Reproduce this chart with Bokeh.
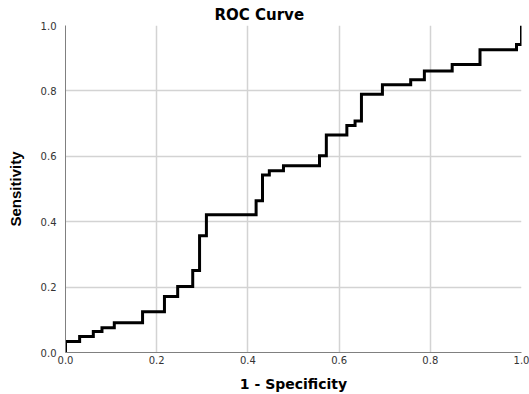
from bokeh.plotting import figure
from bokeh.models import FixedTicker, PrintfTickFormatter, Range1d
from bokeh.embed import file_html
from bokeh.resources import INLINE

# Step locations (1 - Specificity) and the Sensitivity level reached there
fpr = [0.0, 0.0, 0.031, 0.061, 0.080, 0.107, 0.169, 0.217, 0.246, 0.279, 0.294,
       0.309, 0.418, 0.432, 0.447, 0.478, 0.557, 0.572, 0.617, 0.635, 0.649,
       0.695, 0.757, 0.787, 0.848, 0.909, 0.989, 1.0]
tpr = [0.0, 0.034, 0.049, 0.064, 0.076, 0.091, 0.125, 0.171, 0.202, 0.251, 0.357,
       0.421, 0.464, 0.543, 0.556, 0.571, 0.602, 0.665, 0.694, 0.708, 0.790,
       0.819, 0.834, 0.861, 0.881, 0.926, 0.942, 1.0]
ticks = [0.0, 0.2, 0.4, 0.6, 0.8, 1.0]

title_text = "ROC Curve"
x_label = "1 - Specificity"
y_label = "Sensitivity"

p = figure(width=529, height=394, output_backend="svg", toolbar_location=None,
           x_range=Range1d(0, 1), y_range=Range1d(0, 1),
           min_border_left=65, min_border_right=8, min_border_top=25,
           min_border_bottom=41, title=title_text)

p.title.text_font = "DejaVu Sans"
p.title.text_font_size = "15px"
p.title.text_font_style = "bold"
p.title.text_color = "#000000"
p.title.align = "left"
p.title.offset = 149
p.title.standoff = 3

p.outline_line_color = None
p.background_fill_color = "white"
p.border_fill_color = "white"

for ax in (p.xaxis[0], p.yaxis[0]):
    ax.ticker = FixedTicker(ticks=ticks)
    ax.formatter = PrintfTickFormatter(format="%.1f")
    ax.major_tick_line_color = None
    ax.minor_tick_line_color = None
    ax.major_tick_in = 0
    ax.major_tick_out = 0
    ax.axis_line_color = "#808080"
    ax.axis_line_width = 1
    ax.major_label_text_font = "DejaVu Sans"
    ax.major_label_text_font_size = "10px"
    ax.major_label_text_color = "#333333"
    ax.axis_label_text_color = "#000000"
    ax.axis_label_text_font_style = "bold"

p.xaxis.axis_label = x_label
p.xaxis.axis_label_text_font = "DejaVu Sans"
p.xaxis.axis_label_text_font_size = "14px"
p.xaxis.major_label_standoff = 3
p.xaxis.axis_label_standoff = 9

p.yaxis.axis_label = y_label
p.yaxis.axis_label_text_font = "Liberation Sans"
p.yaxis.axis_label_text_font_size = "15px"
p.yaxis.major_label_standoff = 9
p.yaxis.axis_label_standoff = 14

for g in (p.xgrid[0], p.ygrid[0]):
    g.ticker = FixedTicker(ticks=ticks)
    g.grid_line_color = "#d3d3d3"
    g.grid_line_width = 1.5

p.step(x=fpr, y=tpr, mode="after", line_color="black", line_width=3,
       line_join="miter")

open("out.html", "w").write(file_html(p, INLINE))
